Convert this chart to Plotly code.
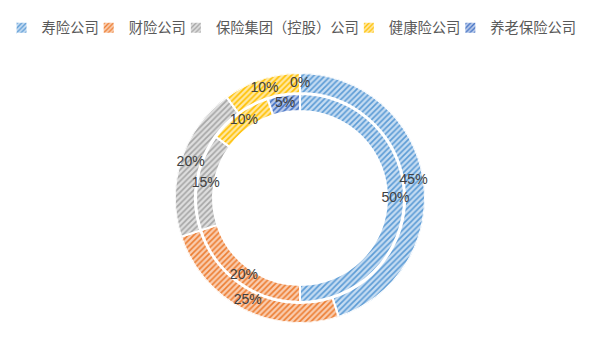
import plotly.graph_objects as go

categories = ["寿险公司", "财险公司", "保险集团（控股）公司", "健康险公司", "养老保险公司"]
outer_values = [45, 25, 20, 10, 0]
inner_values = [50, 20, 15, 10, 5]

fg_colors = ["#5B9BD5", "#ED7D31", "#A5A5A5", "#FFC000", "#4472C4"]
bg_colors = ["#C5DCF2", "#F9CDB0", "#DEDEDE", "#FFE8A3", "#B9CAEA"]

W, H = 598, 338
cx, cy = 300, 198  # pixel centre (from top-left)
R = 125  # outer radius in px (radial axis uses px units)
rings = {"outer": (105, 125, outer_values), "inner": (87, 104, inner_values)}

font_fam = "Liberation Sans, Arial, Noto Sans CJK SC, sans-serif"


def slice_geom(values):
    total = float(sum(values))
    mids, widths, acc = [], [], 0.0
    for v in values:
        mids.append((acc + v / 2) / total * 360)
        widths.append(v / total * 360)
        acc += v
    return mids, widths


geo = {k: slice_geom(v[2]) for k, v in rings.items()}

fig = go.Figure()
for i, cat in enumerate(categories):
    thetas, widths, bases, lens = [], [], [], []
    for k, (r0, r1, vals) in rings.items():
        thetas.append(geo[k][0][i])
        widths.append(geo[k][1][i])
        bases.append(r0)
        lens.append(r1 - r0)
    fig.add_trace(go.Barpolar(
        name=cat, theta=thetas, width=widths, base=bases, r=lens,
        marker=dict(
            color=bg_colors[i],
            line=dict(color="white", width=2),
            pattern=dict(shape="/", fgcolor=fg_colors[i], bgcolor=bg_colors[i],
                         size=4, solidity=0.4, fillmode="replace"),
        ),
        hoverinfo="name",
    ))

for k, (r0, r1, vals) in rings.items():
    fig.add_trace(go.Scatterpolar(
        r=[(r0 + r1) / 2] * len(vals), theta=geo[k][0],
        text=[f"{v}%" for v in vals], mode="text",
        textfont=dict(size=14, color="#404040", family=font_fam),
        showlegend=False, hoverinfo="skip",
    ))

fig.update_layout(
    width=W, height=H,
    margin=dict(l=0, r=0, t=0, b=0, autoexpand=False),
    paper_bgcolor="white", plot_bgcolor="white",
    polar=dict(
        domain=dict(x=[(cx - R) / W, (cx + R) / W], y=[(H - cy - R) / H, (H - cy + R) / H]),
        bgcolor="rgba(0,0,0,0)",
        radialaxis=dict(range=[0, R], visible=False, showgrid=False),
        angularaxis=dict(rotation=90, direction="clockwise", visible=False, showgrid=False),
        bargap=0,
    ),
    legend=dict(
        orientation="h", x=0.5, xanchor="center", y=1 - 28 / H, yanchor="middle",
        font=dict(size=14.3, color="#595959", family=font_fam),
        itemwidth=30, indentation=-15, traceorder="normal", bgcolor="rgba(0,0,0,0)",
    ),
    font=dict(family=font_fam),
)

fig.write_html("out.html")
